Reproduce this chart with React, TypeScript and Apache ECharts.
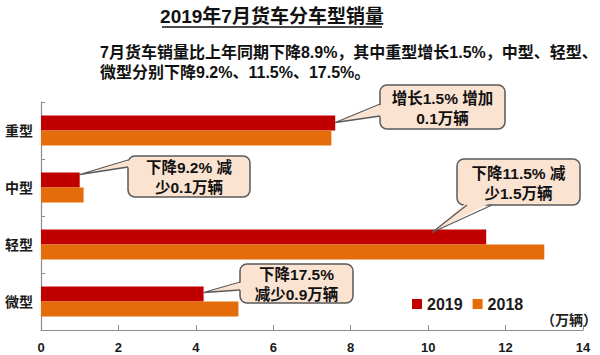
import React, { useEffect, useRef } from 'react';
import * as echarts from 'echarts';

const categories = ['重型', '中型', '轻型', '微型'];
const seriesNames = ['2019', '2018'];
const sales2019 = [7.6, 1.0, 11.5, 4.2];
const sales2018 = [7.5, 1.1, 13.0, 5.1];
const titleText = '2019年7月货车分车型销量';
const subtitleText = '7月货车销量比上年同期下降8.9%，其中重型增长1.5%，中型、轻型、\n微型分别下降9.2%、11.5%、17.5%。';
const unitText = '（万辆）';
const calloutTexts = [
  '增长1.5% 增加\n0.1万辆',
  '下降9.2% 减\n少0.1万辆',
  '下降11.5% 减\n少1.5万辆',
  '下降17.5%\n减少0.9万辆',
];
// value on the x axis where each callout's pointer touches the 2019 bar
const calloutAnchors = [7.6, 1.0, 10.1, 4.2];

// layout of callout boxes (pixels)
const calloutBoxes = [
  { x: 380, y: 85, w: 125, h: 44, side: 'left', b0: 104, b1: 116, dy: -8 },
  { x: 128, y: 156, w: 122, h: 41, side: 'left', b0: 160, b1: 167, dy: -13 },
  { x: 457, y: 159, w: 123, h: 46, side: 'bottom', b0: 467, b1: 492, dy: -12 },
  { x: 240, y: 264, w: 113, h: 39, side: 'left', b0: 282, b1: 290, dy: -9 },
];

const FONT = "'Liberation Sans', 'Noto Sans CJK SC', sans-serif";
const C2019 = '#C00000';
const C2018 = '#E46C0A';
const BAR_W = 15;

export default function App() {
  const ref = useRef<HTMLDivElement>(null);
  useEffect(() => {
    if (!ref.current) return;
    const chart = echarts.init(ref.current, null, { renderer: 'svg' });
    const option: any = {
      animation: false,
      backgroundColor: '#ffffff',
      textStyle: { fontFamily: FONT },
      grid: { left: 41, right: 17, top: 102, bottom: 25, containLabel: false },
      legend: {
        data: seriesNames,
        left: 407,
        top: 291,
        icon: 'rect',
        itemWidth: 10,
        itemHeight: 10,
        itemGap: 10,
        textStyle: { fontSize: 16, fontWeight: 'bold', color: '#1a1a1a', fontFamily: FONT },
      },
      xAxis: {
        type: 'value',
        min: 0,
        max: 14,
        interval: 2,
        axisLine: { show: true, lineStyle: { color: '#8c8c8c', width: 1.2 } },
        axisTick: { show: true, inside: true, length: 5, lineStyle: { color: '#8c8c8c' } },
        splitLine: { show: false },
        axisLabel: { fontSize: 13, fontWeight: 'bold', color: '#1a1a1a', margin: 11, fontFamily: FONT },
      },
      yAxis: {
        type: 'category',
        data: categories,
        inverse: true,
        axisLine: { show: true, lineStyle: { color: '#8c8c8c', width: 1.2 } },
        axisTick: { show: true, inside: true, length: 4, lineStyle: { color: '#8c8c8c' } },
        axisLabel: { fontSize: 14, fontWeight: 'bold', color: '#1a1a1a', margin: 8, fontFamily: FONT },
      },
      series: [
        { name: seriesNames[0], type: 'bar', data: sales2019, barWidth: BAR_W, barGap: '0%', itemStyle: { color: C2019 } },
        { name: seriesNames[1], type: 'bar', data: sales2018, barWidth: BAR_W, barGap: '0%', itemStyle: { color: C2018 } },
      ],
    };
    chart.setOption(option);

    const graphics: any[] = [];
    graphics.push({
      type: 'text',
      x: 272,
      y: 16,
      style: { text: titleText, fontSize: 19, fontWeight: 'bold', fontFamily: FONT, fill: '#111', align: 'center', verticalAlign: 'middle' },
    });
    graphics.push({
      type: 'line',
      shape: { x1: 162, y1: 27, x2: 382, y2: 27 },
      style: { stroke: '#111', lineWidth: 1.5 },
    });
    graphics.push({
      type: 'text',
      x: 100,
      y: 42,
      style: { text: subtitleText, fontSize: 16, fontWeight: 'bold', fontFamily: FONT, fill: '#111', lineHeight: 20, align: 'left', verticalAlign: 'top' },
    });
    graphics.push({
      type: 'text',
      x: 597,
      y: 320,
      style: { text: unitText, fontSize: 14, fontWeight: 'bold', fontFamily: FONT, fill: '#222', align: 'right', verticalAlign: 'middle' },
    });

    calloutBoxes.forEach((b, i) => {
      const p = chart.convertToPixel({ gridIndex: 0 }, [calloutAnchors[i], categories[i]]) as number[];
      const tip = [p[0], p[1] + b.dy];
      let base1: number[], base2: number[], in1: number[], in2: number[];
      if (b.side === 'left') {
        base1 = [b.x, b.b0];
        base2 = [b.x, b.b1];
        in1 = [b.x + 3, b.b0];
        in2 = [b.x + 3, b.b1];
      } else {
        base1 = [b.b0, b.y + b.h];
        base2 = [b.b1, b.y + b.h];
        in1 = [b.b0, b.y + b.h - 3];
        in2 = [b.b1, b.y + b.h - 3];
      }
      graphics.push({
        type: 'rect',
        shape: { x: b.x, y: b.y, width: b.w, height: b.h, r: 7 },
        style: { fill: '#FBE3D2', stroke: '#5a5a5a', lineWidth: 1.5 },
        z: 10,
      });
      graphics.push({
        type: 'polygon',
        shape: { points: [in1, tip, in2] },
        style: { fill: '#FBE3D2', stroke: null },
        z: 11,
      });
      graphics.push({
        type: 'polyline',
        shape: { points: [base1, tip, base2] },
        style: { stroke: '#5a5a5a', lineWidth: 1.3, fill: null },
        z: 12,
      });
      graphics.push({
        type: 'text',
        x: b.x + b.w / 2,
        y: b.y + b.h / 2 + 1,
        style: { text: calloutTexts[i], fontSize: 15.5, fontWeight: 'bold', fontFamily: FONT, fill: '#111', lineHeight: 20, align: 'center', verticalAlign: 'middle' },
        z: 13,
      });
    });

    chart.setOption({ graphic: graphics });
    return () => chart.dispose();
  }, []);
  return <div ref={ref} style={{ position: 'fixed', left: 0, top: 0, width: 600, height: 355 }} />;
}
